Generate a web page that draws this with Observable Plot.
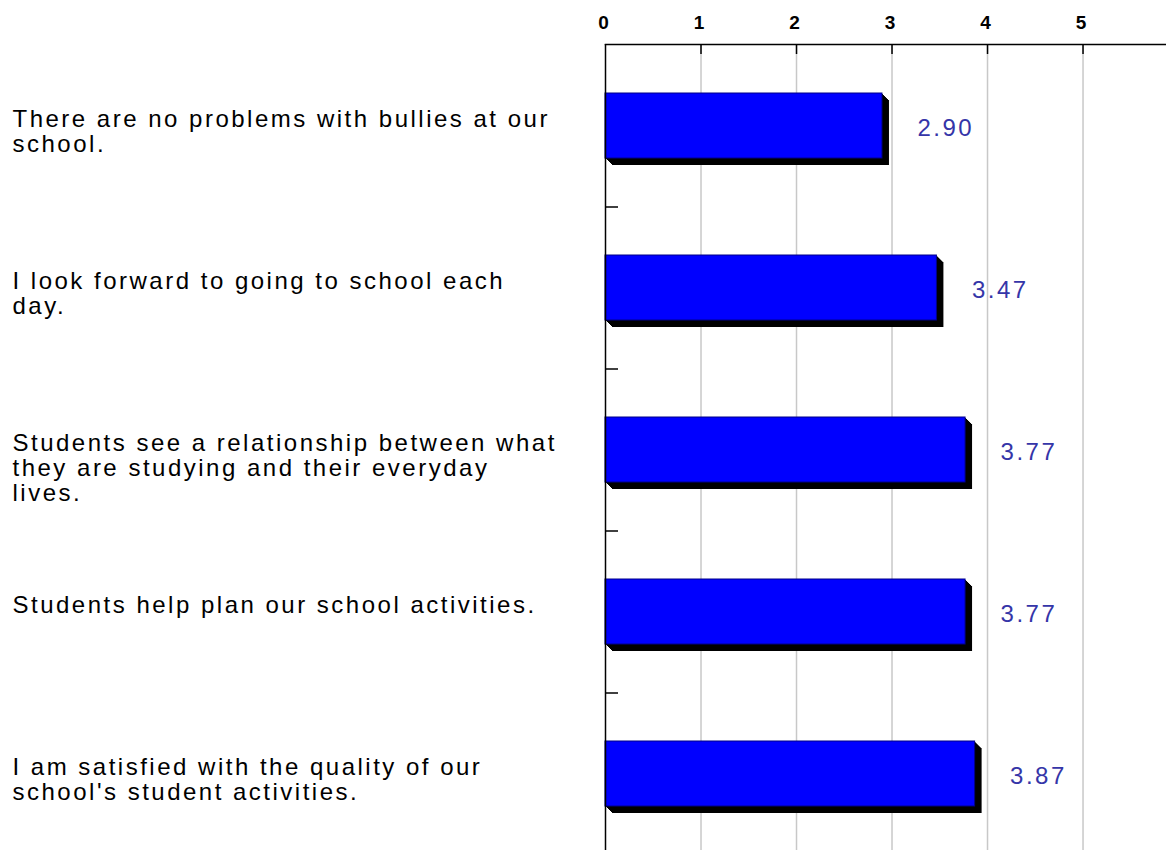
<!DOCTYPE html>
<html>
<head>
<meta charset="utf-8">
<script src="https://cdn.jsdelivr.net/npm/d3@7"></script>
<script src="https://cdn.jsdelivr.net/npm/@observablehq/plot@0.6"></script>
<style>
  html, body { margin: 0; padding: 0; background: #fff; }
  #chart svg { display: block; }
</style>
</head>
<body>
<div id="chart"></div>
<script>
const categories = [
  "There are no problems with bullies at our school.",
  "I look forward to going to school each day.",
  "Students see a relationship between what they are studying and their everyday lives.",
  "Students help plan our school activities.",
  "I am satisfied with the quality of our school's student activities."
];
const wrappedLabels = [
  "There are no problems with bullies at our\nschool.",
  "I look forward to going to school each\nday.",
  "Students see a relationship between what\nthey are studying and their everyday\nlives.",
  "Students help plan our school activities.",
  "I am satisfied with the quality of our\nschool's student activities."
];
const values = [2.90, 3.47, 3.77, 3.77, 3.87];
const valueLabels = ["2.90", "3.47", "3.77", "3.77", "3.87"];
const xTicks = [0, 1, 2, 3, 4, 5];

const rows = categories.map((c, i) => ({cat: c, label: wrappedLabels[i], value: values[i], text: valueLabels[i]}));

const W = 1166, H = 850, ML = 605, MT = 44;
const yRange = [MT, 854];
const step = (yRange[1] - yRange[0]) / categories.length;
const font = "'Liberation Sans', Arial, sans-serif";

const shadowMarks = [1, 2, 3, 4, 5, 6, 7].map(k =>
  Plot.barX(rows, {x: "value", y: "cat", fill: "#000", dx: k, dy: k})
);

const chart = Plot.plot({
  width: W,
  height: H,
  marginLeft: ML,
  marginRight: 0,
  marginTop: MT,
  marginBottom: 0,
  style: {fontFamily: font, background: "#fff", overflow: "visible"},
  x: {domain: [0, 5.874], range: [ML, W], axis: null},
  y: {domain: categories, range: yRange, paddingInner: 0.6, paddingOuter: 0.3, axis: null},
  marks: [
    Plot.ruleX(xTicks.slice(1), {stroke: "#c8c8c8", strokeWidth: 1.5}),
    ...shadowMarks,
    Plot.barX(rows, {x: "value", y: "cat", fill: "#0000ff", stroke: "#00008a", strokeWidth: 1}),
    Plot.text(rows, {x: "value", y: "cat", text: "text", dx: 35, dy: 2, textAnchor: "start",
      fill: "#3535a8", fontSize: 24}),
    Plot.text(rows, {y: "cat", text: "label", frameAnchor: "left", dx: -593, dy: -17,
      textAnchor: "start", lineAnchor: "top", lineHeight: 25 / 24, fontSize: 24, fill: "#000"}),
    Plot.tickX(xTicks.slice(1), {x: d => d, stroke: "#000", strokeWidth: 1.5, insetBottom: (H - MT) - 10}),
    Plot.tickY(categories.slice(1), {y: d => d, dy: -step / 2, stroke: "#000", strokeWidth: 1.5, insetRight: (W - ML) - 13}),
    Plot.ruleX([0], {stroke: "#000", strokeWidth: 1.5}),
    Plot.frame({anchor: "top", stroke: "#000", strokeWidth: 1.5}),
    Plot.text(xTicks, {x: d => d, text: d => String(d), frameAnchor: "top", dy: -22, dx: -2,
      lineAnchor: "middle", fontSize: 19, fontWeight: "bold", fill: "#000"})
  ]
});
chart.querySelectorAll("text").forEach(t => {
  const isTick = /^\d$/.test(t.textContent);
  t.style.letterSpacing = isTick ? "0px" : "2.5px";
});
document.getElementById("chart").appendChild(chart);
</script>
</body>
</html>
